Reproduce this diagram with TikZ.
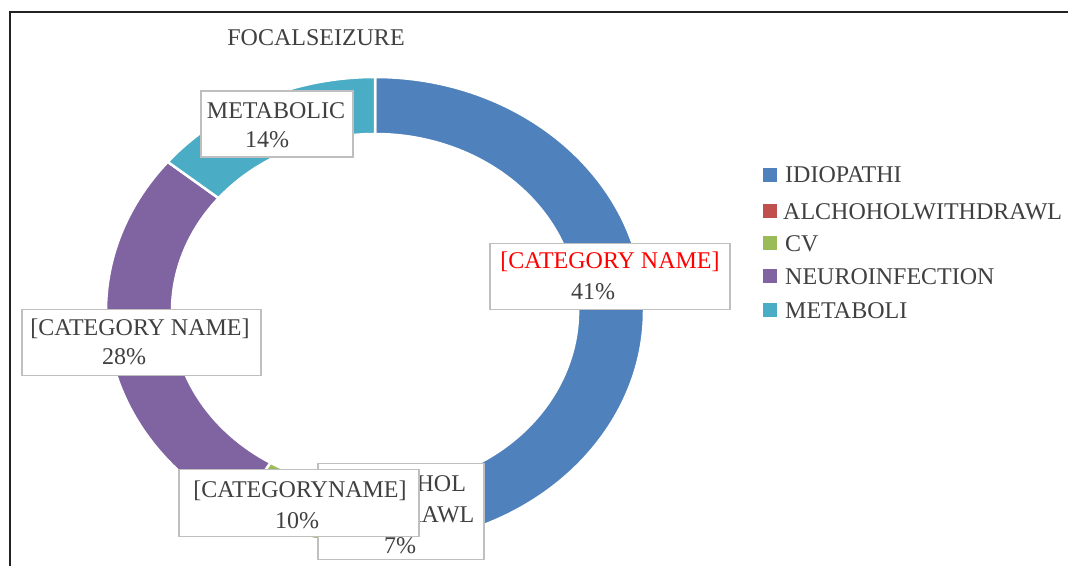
\documentclass[tikz,border=0pt]{standalone}
\usepackage{fontspec}
\setmainfont{Liberation Serif}
\usetikzlibrary{calc}
\definecolor{cblue}{HTML}{4F81BD}
\definecolor{cred}{HTML}{C0504D}
\definecolor{cgreen}{HTML}{9BBB59}
\definecolor{cpurple}{HTML}{8064A2}
\definecolor{cteal}{HTML}{4BACC6}
\definecolor{txtgray}{HTML}{404040}
\definecolor{boxgray}{HTML}{BFBFBF}
\definecolor{framecol}{HTML}{222222}
\tikzset{
  lbl/.style={font=\fontsize{24}{28}\selectfont, text=txtgray, anchor=base, inner sep=0pt},
  legtxt/.style={lbl, anchor=base west},
  dbox/.style={draw=boxgray, line width=1.5pt, fill=white, inner sep=0pt, anchor=south west},
  ringpart/.style={draw=white, line width=2.5pt, line join=round},
  legsq/.style={minimum size=14pt, inner sep=0pt},
}
\newcommand\ringseg[3]{%
  \filldraw[ringpart, fill=#1] ($(C)+(#2:269pt and 234pt)$)
    arc[start angle=#2, end angle=#3, x radius=269pt, y radius=234pt]
    -- ($(C)+(#3:203pt and 177pt)$)
    arc[start angle=#3, end angle=#2, x radius=203pt, y radius=177pt] -- cycle;}
\begin{document}
\begin{tikzpicture}[x=1pt, y=1pt]
\useasboundingbox (0,0) rectangle (1068,566);
\fill[white] (0,0) rectangle (1068,566);
% frame
\draw[framecol, line width=2pt] (9.5,0) -- (9.5,554) -- (1068,554);
% title
\node[lbl] (title) at (316,520) {FOCALSEIZURE};
% donut
\coordinate (C) at (375,255);
\ringseg{cblue}{90}{-70}
\ringseg{cred}{-70}{-82.8}
\ringseg{cgreen}{-82.8}{-121}
\ringseg{cpurple}{-121}{-219.6}
\ringseg{cteal}{-219.6}{-270}
% data labels
\node[dbox, minimum width=152pt, minimum height=66pt] (bmeta) at (200,408) {};
\node[lbl] (tmeta) at (276,447) {METABOLIC};
\node[lbl] (pmeta) at (267,418) {14\%};
\node[dbox, minimum width=240pt, minimum height=66pt] (bidio) at (489,256) {};
\node[lbl, text=red] (tidio) at (610,298) {[CATEGORY NAME]};
\node[lbl] (pidio) at (593,267) {41\%};
\node[dbox, minimum width=239pt, minimum height=66pt] (bneuro) at (21,190) {};
\node[lbl] (tneuro) at (140,231) {[CATEGORY NAME]};
\node[lbl] (pneuro) at (124,202) {28\%};
\node[dbox, minimum width=166pt, minimum height=96pt] (balc) at (317,6) {};
\node[lbl] (talc1) at (400,75) {ALCHOHOL};
\node[lbl] (talc2) at (400,44) {WITHDRAWL};
\node[lbl] (palc) at (400,13) {7\%};
\node[dbox, minimum width=240pt, minimum height=67pt] (bcv) at (178,29) {};
\node[lbl] (tcv) at (300,69) {[CATEGORYNAME]};
\node[lbl] (pcv) at (297,38) {10\%};
% legend
\node[legsq, fill=cblue] (lq1) at (769.5,391) {};
\node[legsq, fill=cred] (lq2) at (769.5,355) {};
\node[legsq, fill=cgreen] (lq3) at (769.5,323) {};
\node[legsq, fill=cpurple] (lq4) at (770,290) {};
\node[legsq, fill=cteal] (lq5) at (770,256) {};
\node[legtxt] (lt1) at (785,383) {IDIOPATHI};
\node[legtxt] (lt2) at (783,347) {ALCHOHOLWITHDRAWL};
\node[legtxt] (lt3) at (785,315) {CV};
\node[legtxt] (lt4) at (785,282) {NEUROINFECTION};
\node[legtxt] (lt5) at (785,248) {METABOLI};
\end{tikzpicture}
\end{document}
